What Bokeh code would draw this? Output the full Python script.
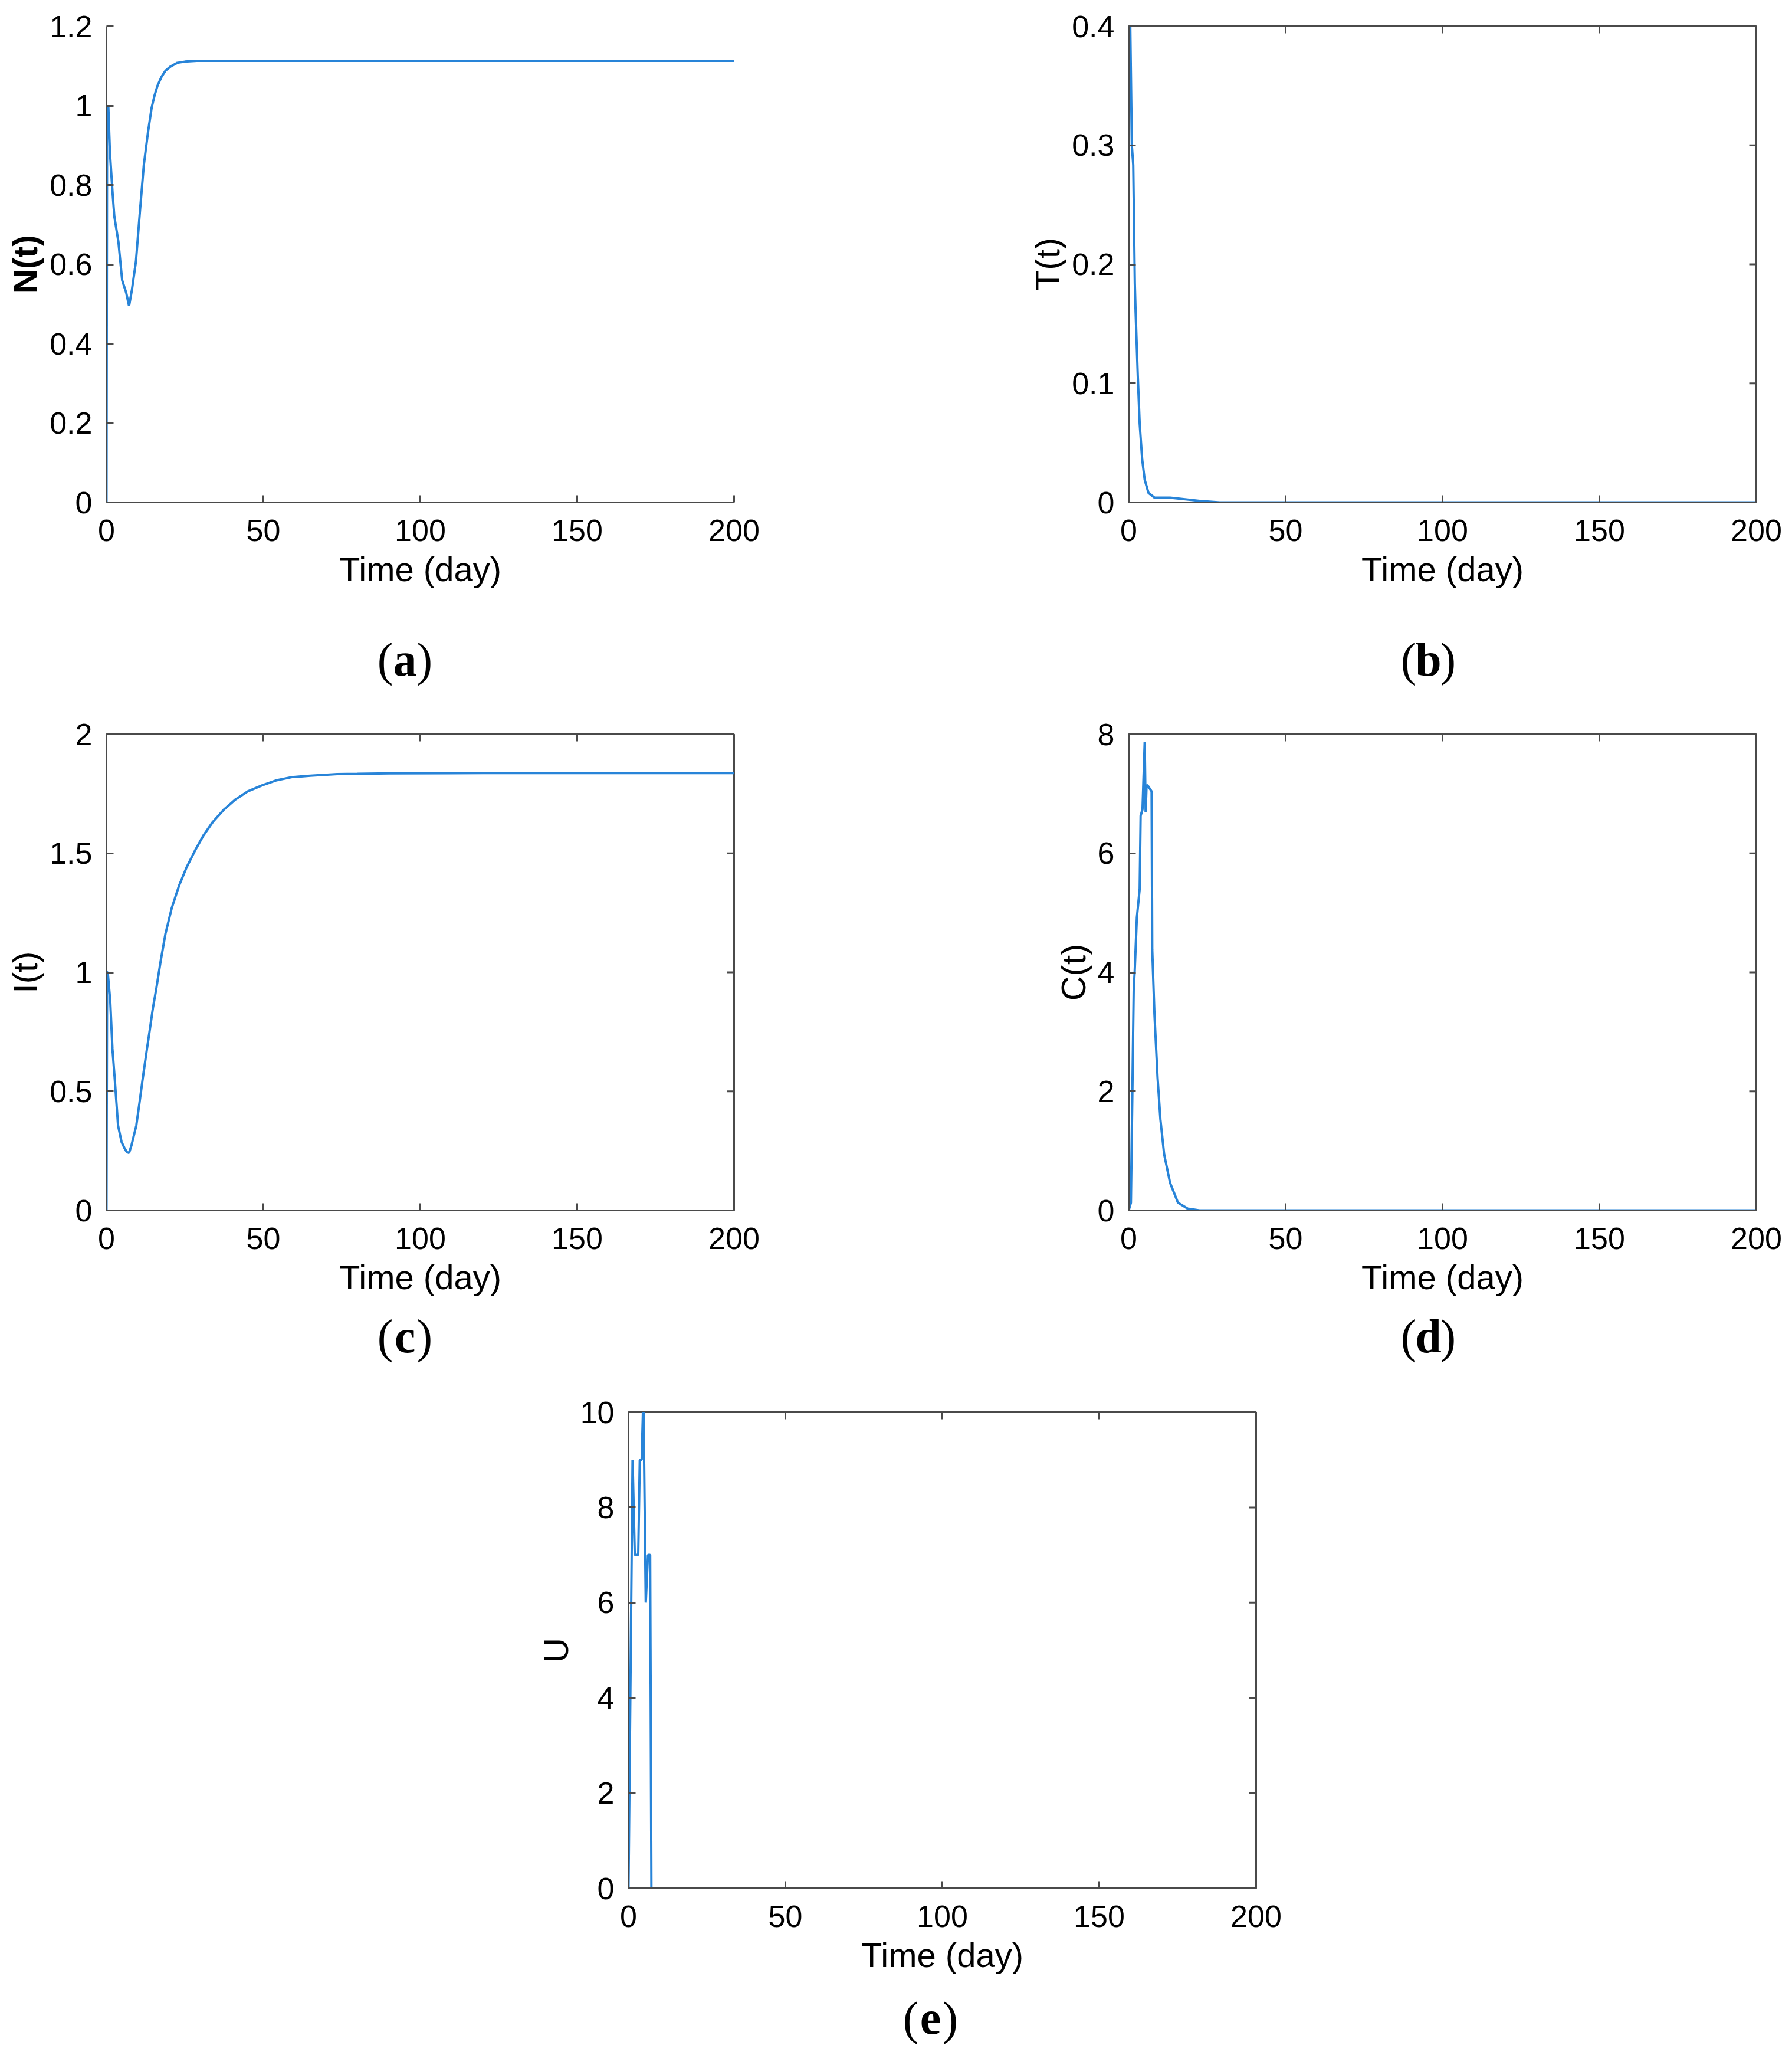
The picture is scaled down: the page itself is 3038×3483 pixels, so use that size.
import math
from bokeh.plotting import figure
from bokeh.layouts import column, row
from bokeh.models import Range1d, FixedTicker, Label, PrintfTickFormatter
from bokeh.embed import file_html
from bokeh.resources import INLINE

# ---------------- data ----------------
x_ticks = [0, 50, 100, 150, 200]
x_tick_labels = ["0", "50", "100", "150", "200"]

t_N = [0, 0.2, 0.6, 1.1, 1.9, 2.5, 3.8, 5.0, 6.3, 7.2, 8.1, 9.4, 10.7, 11.9, 13.2, 14.4,
       15.3, 16.3, 17.5, 18.8, 20.5, 22.6, 25.0, 28.8, 40, 60, 100, 150, 200]
N = [0, 1.0, 0.995, 0.882, 0.785, 0.721, 0.657, 0.56, 0.528, 0.495, 0.535, 0.608, 0.737, 0.85,
     0.931, 0.995, 1.025, 1.051, 1.072, 1.088, 1.099, 1.108, 1.111, 1.113, 1.113, 1.113,
     1.113, 1.113, 1.113]
N_ticks = [0, 0.2, 0.4, 0.6, 0.8, 1, 1.2]
N_tick_labels = ["0", "0.2", "0.4", "0.6", "0.8", "1", "1.2"]

t_T = [0, 0.1, 0.5, 1.0, 1.45, 1.95, 2.2, 2.9, 3.5, 4.3, 5.1, 6.3, 8.2, 13.2, 15.0, 22.6,
       29, 50, 100, 150, 200]
T = [0, 0.42, 0.40, 0.2995, 0.2835, 0.184, 0.16, 0.106, 0.066, 0.036, 0.019, 0.008, 0.004,
     0.004, 0.0035, 0.0013, 0.0, 0, 0, 0, 0]
T_ticks = [0, 0.1, 0.2, 0.3, 0.4]
T_tick_labels = ["0", "0.1", "0.2", "0.3", "0.4"]

t_I = [0, 0.2, 0.4, 1.2, 1.9, 2.6, 3.7, 4.8, 5.8, 6.5, 7.2, 8.0, 9.5, 10.5, 11.6, 12.7, 13.8,
       14.8, 15.9, 17.3, 18.8, 20.8, 23.1, 25.5, 28.2, 30.9, 33.9, 37.3, 41.1, 45.0, 49.7,
       54.0, 59.1, 65.0, 73.5, 80, 90, 120, 160, 200]
I = [0, 1.0, 1.0, 0.88, 0.678, 0.558, 0.356, 0.288, 0.26, 0.245, 0.241, 0.275, 0.356, 0.45,
     0.558, 0.66, 0.758, 0.85, 0.933, 1.05, 1.162, 1.27, 1.363, 1.44, 1.511, 1.575, 1.632,
     1.682, 1.726, 1.76, 1.786, 1.806, 1.82, 1.826, 1.833, 1.834, 1.836, 1.837, 1.837, 1.837]
I_ticks = [0, 0.5, 1, 1.5, 2]
I_tick_labels = ["0", "0.5", "1", "1.5", "2"]

t_C = [0, 0.7, 1.6, 1.9, 2.6, 3.5, 3.8, 4.4, 5.1, 5.4, 5.7, 6.3, 7.3, 7.5, 8.2, 9.2, 10.1,
       11.3, 13.2, 15.7, 18.8, 22.6, 50, 100, 150, 200]
C = [0, 0.13, 3.73, 4.0, 4.92, 5.40, 6.63, 6.74, 7.87, 6.69, 7.15, 7.12, 7.04, 4.38, 3.3,
     2.23, 1.53, 0.94, 0.46, 0.13, 0.03, 0, 0, 0, 0, 0]
C_ticks = [0, 2, 4, 6, 8]
C_tick_labels = ["0", "2", "4", "6", "8"]

t_U = [0, 1.3, 2.0, 3.1, 3.6, 4.2, 4.6, 4.8, 5.5, 6.2, 6.9, 7.3, 50, 100, 150, 200]
U = [0, 9, 7, 7, 9, 9, 10, 10, 6, 7, 7, 0, 0, 0, 0, 0]
U_ticks = [0, 2, 4, 6, 8, 10]
U_tick_labels = ["0", "2", "4", "6", "8", "10"]

panel_letters = ["a", "b", "c", "d", "e"]

# ---------------- style ----------------
LINE = "#2884d8"
AX = "#4a4a4a"
SANS = "Liberation Sans"
SERIF = "Liberation Serif"
TICK_FS = "52px"
LAB_FS = "58px"
TOTAL_W = 3034


def style_axis(ax, ticks, labels):
    ax.ticker = FixedTicker(ticks=ticks, minor_ticks=[])
    ax.formatter = PrintfTickFormatter(format="%g")
    ax.major_label_overrides = {k: v for k, v in zip(ticks, labels)}
    ax.axis_line_color = AX
    ax.axis_line_width = 3
    ax.major_tick_line_color = AX
    ax.major_tick_line_width = 3
    ax.major_tick_in = 12
    ax.major_tick_out = 0
    ax.minor_tick_line_color = None
    ax.major_label_text_font = SANS
    ax.major_label_text_font_size = TICK_FS
    ax.major_label_text_color = "black"
    ax.axis_label_text_font = SANS
    ax.axis_label_text_font_size = LAB_FS
    ax.axis_label_text_font_style = "normal"
    ax.axis_label_text_color = "black"


def panel(w, h, bl, br, bt, bb, t, y, ymax, yticks, ylabels, ylab, bold, boxed):
    p = figure(width=w, height=h, min_border_left=bl, min_border_right=br,
               min_border_top=bt, min_border_bottom=bb,
               x_range=Range1d(0, 200), y_range=Range1d(0, ymax),
               output_backend="svg", toolbar_location=None,
               x_axis_label="Time (day)", y_axis_label=ylab)
    p.grid.visible = False
    p.background_fill_color = "white"
    p.border_fill_color = "white"
    style_axis(p.xaxis[0], x_ticks, x_tick_labels)
    style_axis(p.yaxis[0], yticks, ylabels)
    p.xaxis[0].major_label_standoff = 29
    p.xaxis[0].axis_label_standoff = 12
    p.yaxis[0].major_label_standoff = 24
    p.yaxis[0].axis_label_standoff = 6
    if bold:
        p.yaxis[0].axis_label_text_font_style = "bold"
    if boxed:
        p.outline_line_color = AX
        p.outline_line_width = 3
        # mirrored inward ticks on the top and right edges of the box
        p.scatter(x_ticks, [ymax] * len(x_ticks), marker="dash", angle=math.pi / 2,
                  size=24, line_color=AX, line_width=3)
        p.scatter([200] * len(yticks), yticks, marker="dash", size=24,
                  line_color=AX, line_width=3)
    else:
        p.outline_line_color = None
    p.line(t, y, line_width=4, color=LINE)
    return p


def label_strip(w, h, bl, br, letter, cx, by):
    # frame placed exactly under the panel's frame; x in the strip's own pixels
    f = figure(width=w, height=h, min_border_left=bl, min_border_right=br,
               min_border_top=0, min_border_bottom=0,
               x_range=Range1d(bl, w - br), y_range=Range1d(h, 0),
               x_axis_type=None, y_axis_type=None,
               output_backend="svg", toolbar_location=None)
    f.grid.visible = False
    f.outline_line_color = None
    f.background_fill_color = "white"
    f.border_fill_color = "white"
    common = dict(y=by, text_font=SERIF, text_font_size="80px", text_color="black",
                  text_baseline="alphabetic")
    f.add_layout(Label(x=cx - 20, text="(", text_align="right", **common))
    f.add_layout(Label(x=cx, text=letter, text_align="center", text_font_style="bold", **common))
    f.add_layout(Label(x=cx + 20, text=")", text_align="left", **common))
    return f


pa = panel(1520, 1040, 180, 276, 44, 189, t_N, N, 1.2, N_ticks, N_tick_labels, "N(t)", True, False)
pb = panel(1514, 1040, 393, 57, 44, 189, t_T, T, 0.4, T_ticks, T_tick_labels, "T(t)", False, True)
la = label_strip(1520, 160, 180, 276, panel_letters[0], 686, 77)
lb = label_strip(1514, 160, 393, 57, panel_letters[1], 901, 77)

pc = panel(1520, 1010, 180, 276, 44, 159, t_I, I, 2, I_ticks, I_tick_labels, "I(t)", False, True)
pd = panel(1514, 1010, 393, 57, 44, 159, t_C, C, 8, C_ticks, C_tick_labels, "C(t)", False, True)
lc = label_strip(1520, 130, 180, 276, panel_letters[2], 686, 54)
ld = label_strip(1514, 130, 393, 57, panel_letters[3], 901, 54)

pe = panel(TOTAL_W, 1020, 1065, 905, 53, 160, t_U, U, 10, U_ticks, U_tick_labels, "U", False, True)
le = label_strip(TOTAL_W, 118, 1065, 905, panel_letters[4], 1577, 60)

layout = column(row(pa, pb, spacing=0), row(la, lb, spacing=0),
                row(pc, pd, spacing=0), row(lc, ld, spacing=0),
                pe, le, spacing=0)

open("out.html", "w").write(file_html(layout, INLINE))
